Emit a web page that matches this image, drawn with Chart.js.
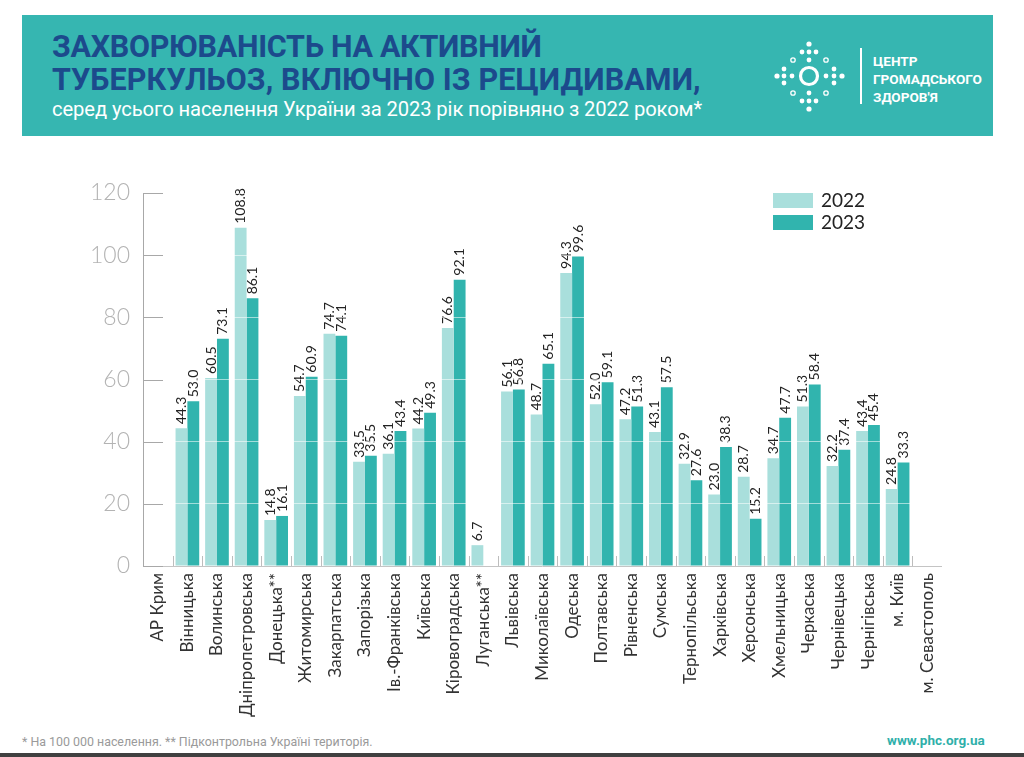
<!DOCTYPE html>
<html>
<head>
<meta charset="utf-8">
<script src="https://cdn.jsdelivr.net/npm/chart.js@4/dist/chart.umd.min.js"></script>
<style>
  html,body{margin:0;padding:0;background:#fff;width:1024px;height:757px;overflow:hidden;position:relative;font-family:Roboto,"Noto Sans",sans-serif;}
  #header{position:absolute;left:22px;top:15px;width:971px;height:121px;background:#36b6b1;}
  .t{position:absolute;left:30px;color:#1c4a8c;font-weight:700;font-size:30.5px;line-height:1;white-space:nowrap;}
  #t1{top:17px;letter-spacing:-0.3px;}
  #t2{top:50px;letter-spacing:0.1px;}
  #sub{position:absolute;left:30px;top:84px;color:#fff;font-size:20.2px;line-height:1;white-space:nowrap;letter-spacing:-0.1px;}
  #logo{position:absolute;left:748px;top:22px;}
  #vline{position:absolute;left:838px;top:33px;width:2px;height:56px;background:#fff;}
  #ltext{position:absolute;left:851px;top:37px;color:#fff;font-weight:700;font-size:13.6px;line-height:18px;white-space:nowrap;}
  #wrap{position:absolute;left:0;top:150px;width:1024px;height:575px;}
  #legend{position:absolute;left:773px;top:193px;font-family:Lato,sans-serif;font-size:19px;color:#222;}
  .li{position:relative;height:22px;}
  .sw{position:absolute;left:0;top:0;width:40px;height:15px;}
  .lt{position:absolute;left:48px;top:-4px;line-height:22px;}
  #foot1{position:absolute;left:22px;top:734px;font-size:12.4px;color:#9a9a9a;white-space:nowrap;}
  #foot2{position:absolute;left:887px;top:732px;font-size:13.5px;font-weight:700;color:#2fb0aa;white-space:nowrap;}
  #bar{position:absolute;left:0;top:753px;width:1024px;height:4px;background:#404040;}
</style>
</head>
<body>
<div id="header">
  <div class="t" id="t1">ЗАХВОРЮВАНІСТЬ НА АКТИВНИЙ</div>
  <div class="t" id="t2">ТУБЕРКУЛЬОЗ, ВКЛЮЧНО ІЗ РЕЦИДИВАМИ,</div>
  <div id="sub">серед усього населення України за 2023 рік порівняно з 2022 роком*</div>
  <svg id="logo" width="80" height="80" viewBox="0 0 80 80">
    <g fill="#fff">
      <circle cx="39" cy="7" r="2.6"/>
      <circle cx="32" cy="15" r="2.4"/><circle cx="39" cy="15" r="2.4"/><circle cx="46" cy="15" r="2.4"/>
      <circle cx="39" cy="23" r="2.4"/>
      <circle cx="39" cy="56" r="2.4"/>
      <circle cx="32" cy="64" r="2.4"/><circle cx="39" cy="64" r="2.4"/><circle cx="46" cy="64" r="2.4"/>
      <circle cx="39" cy="72" r="2.6"/>
      <circle cx="7" cy="39" r="2.6"/>
      <circle cx="14" cy="32" r="2.4"/><circle cx="14" cy="39" r="2.4"/><circle cx="14" cy="46" r="2.4"/>
      <circle cx="22" cy="39" r="2.4"/>
      <circle cx="56" cy="39" r="2.4"/>
      <circle cx="64" cy="32" r="2.4"/><circle cx="64" cy="39" r="2.4"/><circle cx="64" cy="46" r="2.4"/>
      <circle cx="72" cy="39" r="2.6"/>
    </g>
    <g fill="none" stroke="#fff">
      <circle cx="39" cy="39" r="8.5" stroke-width="3.2"/>
      <circle cx="23" cy="23" r="2.2" stroke-width="1.3"/>
      <circle cx="56" cy="23" r="2.2" stroke-width="1.3"/>
      <circle cx="23" cy="56" r="2.2" stroke-width="1.3"/>
      <circle cx="56" cy="56" r="2.2" stroke-width="1.3"/>
    </g>
  </svg>
  <div id="vline"></div>
  <div id="ltext">ЦЕНТР<br>ГРОМАДСЬКОГО<br>ЗДОРОВ'Я</div>
</div>
<div id="wrap"><canvas id="c" width="1024" height="575"></canvas></div>
<div id="legend">
  <div class="li"><div class="sw" style="background:#a9dfdc"></div><div class="lt">2022</div></div>
  <div class="li"><div class="sw" style="background:#31b4ae"></div><div class="lt">2023</div></div>
</div>
<div id="foot1">* На 100 000 населення. ** Підконтрольна Україні територія.</div>
<div id="foot2">www.phc.org.ua</div>
<div id="bar"></div>
<script>
const categories = ["АР Крим","Вінницька","Волинська","Дніпропетровська","Донецька**","Житомирська","Закарпатська","Запорізька","Ів.-Франківська","Київська","Кіровоградська","Луганська**","Львівська","Миколаївська","Одеська","Полтавська","Рівненська","Сумська","Тернопільська","Харківська","Херсонська","Хмельницька","Черкаська","Чернівецька","Чернігівська","м. Київ","м. Севастополь"];
const values2022 = [null,44.3,60.5,108.8,14.8,54.7,74.7,33.5,36.1,44.2,76.6,6.7,56.1,48.7,94.3,52.0,47.2,43.1,32.9,23.0,28.7,34.7,51.3,32.2,43.4,24.8,null];
const values2023 = [null,53.0,73.1,86.1,16.1,60.9,74.1,35.5,43.4,49.3,92.1,null,56.8,65.1,99.6,59.1,51.3,57.5,27.6,38.3,15.2,47.7,58.4,37.4,45.4,33.3,null];
const yTicks = [0,20,40,60,80,100,120];

const labelPlugin = {
  id: 'valueLabels',
  afterDatasetsDraw(chart) {
    const ctx = chart.ctx;
    ctx.save();
    ctx.font = '14px Lato, sans-serif';
    ctx.fillStyle = '#222';
    ctx.textAlign = 'left';
    ctx.textBaseline = 'middle';
    chart.data.datasets.forEach((ds, di) => {
      const meta = chart.getDatasetMeta(di);
      meta.data.forEach((el, i) => {
        const v = ds.data[i];
        if (v === null || v === undefined) return;
        ctx.save();
        ctx.translate(el.x, el.y - 4);
        ctx.rotate(-Math.PI / 2);
        ctx.fillText(v.toFixed(1), 0, 0);
        ctx.restore();
      });
    });
    ctx.restore();
  },
  afterDraw(chart) {
    const ctx = chart.ctx;
    const a = chart.chartArea;
    const ys = chart.scales.y, xs = chart.scales.x;
    ctx.save();
    ctx.lineWidth = 1;
    ctx.strokeStyle = '#c4c4c4';
    const by = Math.round(a.bottom) + 0.5;
    ctx.beginPath(); ctx.moveTo(a.left, by); ctx.lineTo(a.right, by); ctx.stroke();
    ctx.strokeStyle = '#a8a8a8';
    const lx = Math.round(a.left) + 0.5;
    ctx.beginPath(); ctx.moveTo(lx, Math.round(a.top)); ctx.lineTo(lx, by); ctx.stroke();
    ys.ticks.forEach(t => {
      const y = Math.round(ys.getPixelForValue(t.value)) + 0.5;
      ctx.beginPath();
      ctx.moveTo(a.left, y);
      ctx.lineTo(a.left + 20, y);
      ctx.stroke();
    });
    ctx.strokeStyle = '#bdbdbd';
    for (let i = 1; i < categories.length; i++) {
      const x = Math.round((xs.getPixelForValue(i - 1) + xs.getPixelForValue(i)) / 2) + 0.5;
      ctx.beginPath();
      ctx.moveTo(x, a.bottom - 10);
      ctx.lineTo(x, a.bottom);
      ctx.stroke();
    }
    ctx.restore();
  }
};

new Chart(document.getElementById('c'), {
  type: 'bar',
  data: {
    labels: categories,
    datasets: [
      { label: '2022', data: values2022, backgroundColor: '#a9dfdc', borderWidth: 0, categoryPercentage: 0.8, barPercentage: 1.0 },
      { label: '2023', data: values2023, backgroundColor: '#31b4ae', borderWidth: 0, categoryPercentage: 0.8, barPercentage: 1.0 }
    ]
  },
  options: {
    responsive: false,
    animation: false,
    layout: { padding: { top: 43, right: 82, left: 0, bottom: 0 } },
    plugins: { legend: { display: false }, tooltip: { enabled: false } },
    scales: {
      x: {
        grid: { display: false, drawTicks: false },
        border: { display: false },
        ticks: { minRotation: 90, maxRotation: 90, autoSkip: false, padding: 7, color: '#333', font: { family: 'Lato', size: 17 } },
        afterFit(s) { s.height = 159; }
      },
      y: {
        min: 0, max: 120,
        afterBuildTicks(s) { s.ticks = yTicks.map(v => ({ value: v })); },
        grid: { z: 1, drawTicks: false, lineWidth: 1, color: (c) => (c.tick && c.tick.value === 0) ? 'rgba(0,0,0,0)' : 'rgba(255,255,255,0.55)' },
        border: { display: false },
        ticks: { padding: 13, color: '#b3b3b3', font: { family: 'Lato', size: 23, weight: '300' } },
        afterFit(s) { s.width = 143; }
      }
    }
  },
  plugins: [labelPlugin]
});
</script>
</body>
</html>
